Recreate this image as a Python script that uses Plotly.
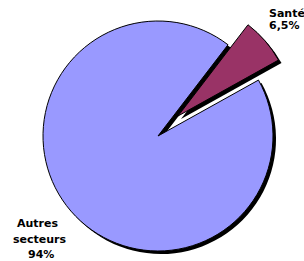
import plotly.graph_objects as go

W, H = 304, 261

labels = ["Santé", "Autres secteurs"]
values = [6.5, 93.5]
label_lines = [["Santé", "6,5%"], ["Autres", "secteurs", "94%"]]
colors = ["#993366", "#9999FF"]

R = 115
main_c = (158, 136)
pulled_c = (178, 116)
shadow = (3, 3)
rotation = 37.5


def dom(cx, cy, r):
    return dict(x=[(cx - r) / W, (cx + r) / W],
                y=[(H - cy - r) / H, (H - cy + r) / H])


T = "rgba(0,0,0,0)"

fig = go.Figure()


def add(center, slice_colors, line_colors, lw):
    fig.add_trace(go.Pie(
        labels=labels, values=values, sort=False, direction="clockwise",
        rotation=rotation, textinfo="none", hoverinfo="skip",
        showlegend=False, domain=dom(center[0], center[1], R),
        marker=dict(colors=slice_colors, line=dict(color=line_colors, width=lw)),
    ))


# shadows
add((main_c[0] + shadow[0], main_c[1] + shadow[1]), [T, "black"], [T, "black"], 0)
add((pulled_c[0] + shadow[0], pulled_c[1] + shadow[1]), ["black", T], ["black", T], 0)
# main slices
add(main_c, [T, colors[1]], [T, "black"], 1)
add(pulled_c, [colors[0], T], ["black", T], 1)

font = dict(family="DejaVu Sans", size=11, color="black")

# label line positions (pixels from top-left)
sante_pos = [(268, 13.5), (268, 26)]
autres_pos = [(37, 223), (39.5, 239), (41, 254)]

for txt, (px, py) in zip(label_lines[0], sante_pos):
    fig.add_annotation(text="<b>" + txt + "</b>", x=px / W, y=1 - py / H,
                       xref="paper", yref="paper", xanchor="left", yanchor="middle",
                       showarrow=False, font=font, borderpad=0)
for txt, (px, py) in zip(label_lines[1], autres_pos):
    fig.add_annotation(text="<b>" + txt + "</b>", x=px / W, y=1 - py / H,
                       xref="paper", yref="paper", xanchor="center", yanchor="middle",
                       showarrow=False, font=font, borderpad=0)

fig.update_layout(width=W, height=H, margin=dict(l=0, r=0, t=0, b=0),
                  paper_bgcolor="white", plot_bgcolor="white")
fig.write_html("out.html", config={"displayModeBar": False},
               post_script="document.body.style.margin='0px';")
